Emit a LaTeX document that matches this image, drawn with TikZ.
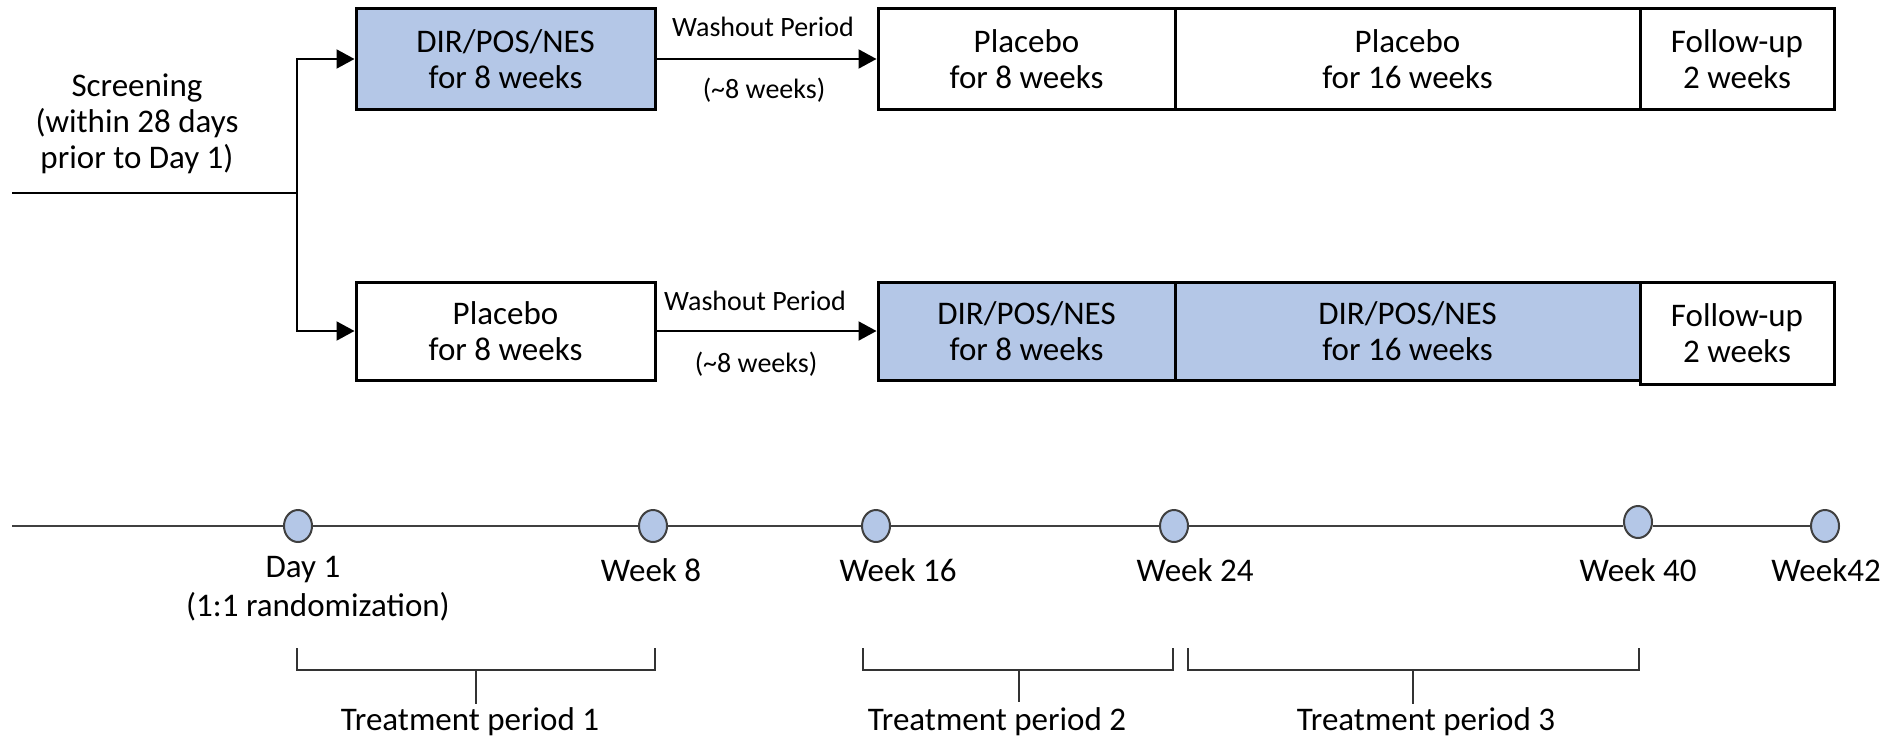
\documentclass[tikz,border=0pt]{standalone}
\usepackage{fontspec}
\setmainfont{Carlito}
\usetikzlibrary{arrows.meta,shapes.geometric}
\definecolor{boxblue}{HTML}{B4C7E7}
\definecolor{dotedge}{HTML}{404040}
\tikzset{
  box/.style={draw=black, line width=1.5pt, inner sep=0pt, minimum height=50.5pt, align=center,
    font=\fontsize{16.5}{18}\selectfont},
  bluebox/.style={box, fill=boxblue},
  conn/.style={line width=1pt, draw=black},
  arr/.style={conn, -{Triangle[length=9pt,width=9.5pt]}},
  wlabel/.style={font=\fontsize{14}{16}\selectfont, inner sep=0pt},
  txt/.style={font=\fontsize{16.5}{18}\selectfont, align=center, inner sep=0pt},
  dot/.style={ellipse, draw=dotedge, line width=1pt, fill=boxblue, minimum width=14pt, minimum height=16pt, inner sep=0pt},
  tline/.style={line width=1.3pt, draw=black!75},
  brace/.style={line width=1pt, draw=black!80}
}
\begin{document}
\begin{tikzpicture}[x=0.5pt,y=-0.5pt]
\useasboundingbox (0,0) rectangle (1888,738);
% Screening
\node[txt] (scr) at (137,124) {Screening\\(within 28 days\\prior to Day 1)};
\coordinate (s0) at (12,193);
\coordinate (sj) at (297,193);
% top row
\node[bluebox, minimum width=149.5pt] (t1) at (505.5,59) {DIR/POS/NES\\for 8 weeks};
\node[box, minimum width=148.5pt] (t2) at (1026.5,59) {Placebo\\for 8 weeks};
\node[box, minimum width=232.5pt] (t3) at (1407.5,59) {Placebo\\for 16 weeks};
\node[box, minimum width=97pt] (t4) at (1737,59) {Follow-up\\2 weeks};
% bottom row
\node[box, minimum width=149.5pt, minimum height=49pt] (b1) at (505.5,331) {Placebo\\for 8 weeks};
\node[bluebox, minimum width=148.5pt, minimum height=49pt] (b2) at (1026.5,331) {DIR/POS/NES\\for 8 weeks};
\node[bluebox, minimum width=232.5pt, minimum height=49pt] (b3) at (1407.5,331) {DIR/POS/NES\\for 16 weeks};
\node[box, minimum width=97pt, minimum height=51pt] (b4) at (1737,333) {Follow-up\\2 weeks};
% connectors
\draw[conn] (s0) -- (sj);
\draw[arr] (sj) |- (t1.west);
\draw[arr] (sj) |- (b1.west);
\draw[arr] (t1.east) -- (t2.west);
\draw[arr] (b1.east) -- (b2.west);
\node[wlabel] (wt) at (763,27) {Washout Period};
\node[wlabel] (wtw) at (764,90) {(\textasciitilde8 weeks)};
\node[wlabel] (wb) at (755,301) {Washout Period};
\node[wlabel] (wbw) at (756,364) {(\textasciitilde8 weeks)};
% timeline
\coordinate (tl0) at (12,526);
\node[dot] (d1) at (298,526) {};
\node[dot] (d2) at (653,526) {};
\node[dot] (d3) at (876,526) {};
\node[dot] (d4) at (1174,526) {};
\node[dot] (d5) at (1638,522) {};
\node[dot] (d6) at (1825,526) {};
\draw[tline] (tl0) -- (d1);
\draw[tline] (d1) -- (d2);
\draw[tline] (d2) -- (d3);
\draw[tline] (d3) -- (d4);
\draw[tline] (d4) -- (d5.west |- d4);
\draw[tline] (d5.east |- d6) -- (d6);
\node[txt] (l1) at (303,570) {Day 1};
\node[txt] (l1b) at (318,607) {(1:1 randomization)};
\node[txt] (l2) at (651,570) {Week 8};
\node[txt] (l3) at (898,570) {Week 16};
\node[txt] (l4) at (1195,570) {Week 24};
\node[txt] (l5) at (1638,570) {Week 40};
\node[txt] (l6) at (1826,570) {Week42};
% brackets
\draw[brace] (297,648) -- (297,670) -- (655,670) -- (655,648);
\draw[brace] (476,670) -- (476,704);
\node[txt] (p1) at (470,722) {Treatment period 1};
\draw[brace] (863,648) -- (863,670) -- (1173,670) -- (1173,648);
\draw[brace] (1019,670) -- (1019,702);
\node[txt] (p2) at (997,722) {Treatment period 2};
\draw[brace] (1188,648) -- (1188,670) -- (1639,670) -- (1639,648);
\draw[brace] (1413,670) -- (1413,704);
\node[txt] (p3) at (1426,722) {Treatment period 3};
\end{tikzpicture}
\end{document}
